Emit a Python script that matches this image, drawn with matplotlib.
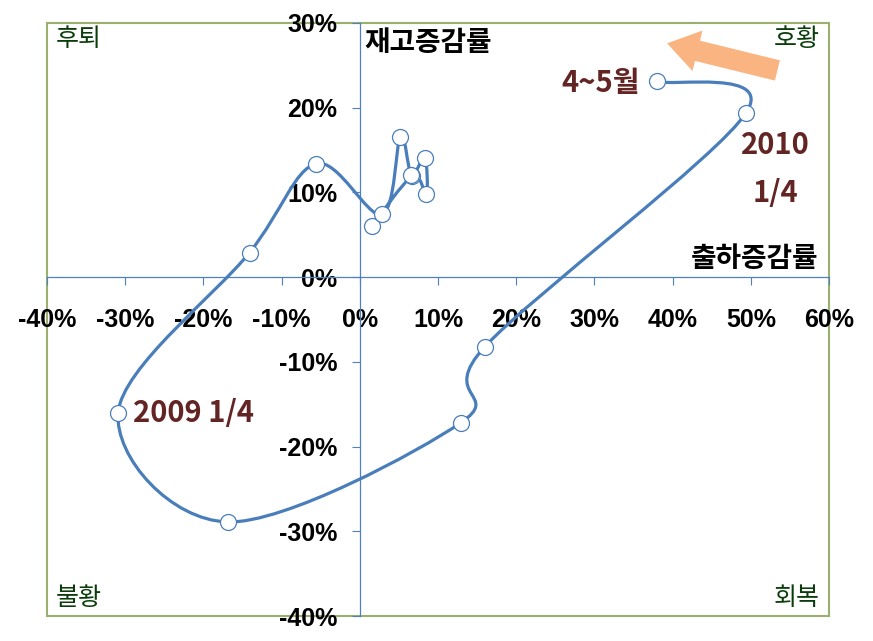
import numpy as np
import matplotlib
matplotlib.use('Agg')
import matplotlib.pyplot as plt
from matplotlib.path import Path
from matplotlib.patches import PathPatch, Rectangle

# shipment growth (x, %) and inventory growth (y, %), in time order
ship = [1.5, 6.7, 8.5, 8.3, 6.6, 5.2, 2.8, -5.6, -14.1, -30.9, -16.9, 12.9, 16.0, 49.4, 38.0]
stock = [6.0, 11.9, 9.8, 14.1, 12.1, 16.6, 7.4, 13.4, 2.9, -16.0, -28.9, -17.2, -8.2, 19.4, 23.1]

x_ticks = [-40, -30, -20, -10, 0, 10, 20, 30, 40, 50, 60]
x_labels = ['-40%', '-30%', '-20%', '-10%', '0%', '10%', '20%', '30%', '40%', '50%', '60%']
y_ticks = [-40, -30, -20, -10, 0, 10, 20, 30]
y_labels = ['-40%', '-30%', '-20%', '-10%', '0%', '10%', '20%', '30%']

quadrants = ['후퇴', '호황', '불황', '회복']

kr = ['Noto Sans CJK KR', 'DejaVu Sans']
num = ['Liberation Sans', 'DejaVu Sans']
blue = '#4A7EBB'
brown = '#632523'
green = '#0B3D0B'
olive = '#9BAF6E'

fig = plt.figure(figsize=(8.73, 6.41), dpi=100)
ax = fig.add_axes([47 / 873, 1 - 616 / 641, 782 / 873, 593 / 641])
ax.set_xlim(-40, 60)
ax.set_ylim(-40, 30)

# axes crossing at zero
for s in ['top', 'right']:
    ax.spines[s].set_visible(False)
ax.spines['left'].set_position(('data', 0))
ax.spines['bottom'].set_position(('data', 0))
for s in ['left', 'bottom']:
    ax.spines[s].set_color('#4F81BD')
    ax.spines[s].set_linewidth(0.9)
ax.add_patch(Rectangle((0, 0), 1, 1, transform=ax.transAxes, fill=False,
                       edgecolor=olive, linewidth=1.5, clip_on=False, zorder=1))

ax.set_xticks(x_ticks)
ax.set_xticklabels(x_labels, family=num, fontsize=18, fontweight='bold')
ax.set_yticks(y_ticks)
ax.set_yticklabels(y_labels, family=num, fontsize=18, fontweight='bold')
ax.tick_params(axis='x', direction='out', length=6, color='#4F81BD', pad=16)
ax.tick_params(axis='y', direction='out', length=6, color='#4F81BD', pad=10)

# smoothed line (Excel style Catmull-Rom bezier)
pts = np.column_stack([ship, stock])
n = len(pts)
verts = [pts[0]]
codes = [Path.MOVETO]
for i in range(n - 1):
    p0 = pts[i - 1] if i > 0 else pts[i]
    p3 = pts[i + 2] if i + 2 < n else pts[i + 1]
    verts += [pts[i] + (pts[i + 1] - p0) / 6, pts[i + 1] - (p3 - pts[i]) / 6, pts[i + 1]]
    codes += [Path.CURVE4] * 3
ax.add_patch(PathPatch(Path(verts, codes), fill=False, edgecolor=blue, linewidth=2.3, zorder=3))
ax.plot(ship, stock, linestyle='none', marker='o', markersize=11.5, markerfacecolor='white',
        markeredgecolor=blue, markeredgewidth=0.9, zorder=4)

# titles of axes
ax.text(0.6, 27.6, '재고증감률', family=kr, fontsize=20, fontweight='bold', va='center', ha='left')
ax.text(58.6, 2.1, '출하증감률', family=kr, fontsize=20, fontweight='bold', va='center', ha='right')

# quadrant names
ax.text(0.011, 0.973, quadrants[0], transform=ax.transAxes, family=kr, fontsize=18, color=green, va='center')
ax.text(0.988, 0.973, quadrants[1], transform=ax.transAxes, family=kr, fontsize=18, color=green, va='center', ha='right')
ax.text(0.011, 0.031, quadrants[2], transform=ax.transAxes, family=kr, fontsize=18, color=green, va='center')
ax.text(0.988, 0.031, quadrants[3], transform=ax.transAxes, family=kr, fontsize=18, color=green, va='center', ha='right')

# period labels
ax.annotate('2009 1/4', (ship[9], stock[9]), xytext=(11, 0), textcoords='offset points',
            family=kr, fontsize=21, fontweight='bold', color=brown, va='center', ha='left')
ax.annotate('4~5월', (ship[14], stock[14]), xytext=(-12, -1), textcoords='offset points',
            family=kr, fontsize=21, fontweight='bold', color=brown, va='center', ha='right')
ax.annotate('2010', (ship[13], stock[13]), xytext=(21, -23), textcoords='offset points',
            family=kr, fontsize=21, fontweight='bold', color=brown, va='center', ha='center')
ax.annotate('1/4', (ship[13], stock[13]), xytext=(21, -58), textcoords='offset points',
            family=kr, fontsize=21, fontweight='bold', color=brown, va='center', ha='center')

# direction arrow
ax.annotate('', xy=(39.3, 27.6), xytext=(53.4, 24.4),
            arrowprops=dict(arrowstyle='simple,head_length=1.5,head_width=2.0,tail_width=1.0',
                            mutation_scale=15, facecolor='#F9B481', edgecolor='none',
                            shrinkA=0, shrinkB=0))

fig.savefig('out.png', dpi=100)
